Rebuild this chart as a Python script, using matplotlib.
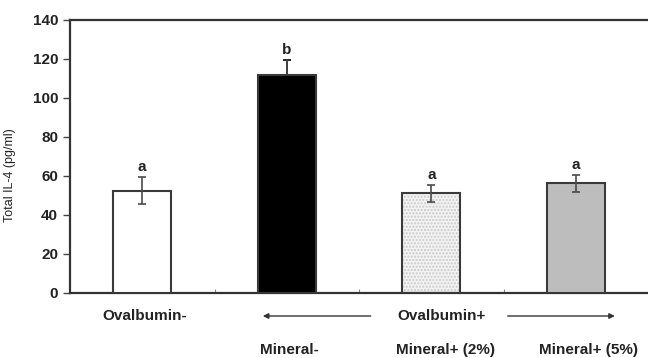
import matplotlib
matplotlib.use("Agg")
import matplotlib.pyplot as plt

plt.rcParams['font.family'] = ['Liberation Sans', 'DejaVu Sans']

groups = ['Ovalbumin-', 'Mineral-', 'Mineral+ (2%)', 'Mineral+ (5%)']
means = [52.2, 111.5, 50.9, 56.0]
errs = [7.0, 7.8, 4.4, 4.5]
letters = ['a', 'b', 'a', 'a']
fills = ['white', 'black', '#f3f3f3', '#bdbdbd']
yticks = [0, 20, 40, 60, 80, 100, 120, 140]

fig = plt.figure(figsize=(6.48, 3.58), dpi=100)
ax = fig.add_axes([70 / 648, (358 - 292.5) / 358, 1 - 70 / 648, 273 / 358])

x = list(range(len(groups)))
# dotted fill for the 2% bar, drawn under the outlined bars
ax.bar(x[2], means[2], width=0.4, color=fills[2], edgecolor='#c8c8c8',
       hatch='.....', linewidth=0, zorder=2)
ax.bar(x, means, width=0.4, color=['white', 'black', 'none', '#bdbdbd'],
       edgecolor='#3a3a3a', linewidth=1.5, zorder=3)
for xi, m, e, t in zip(x, means, errs, letters):
    ec = 'black' if fills[xi] == 'black' else '#4a4a4a'
    ax.errorbar(xi, m, yerr=e, fmt='none', ecolor=ec,
                elinewidth=1.2, capsize=3, capthick=1.2, zorder=4)
    if fills[xi] == 'black':
        ax.plot([xi, xi], [m, m + e], color='#4a4a4a', lw=1.2, zorder=5)
    ax.text(xi, m + e + 1.5, t, ha='center', va='bottom', fontsize=11,
            fontweight='bold', color='#222222')

ax.set_xlim(-0.5, 3.5)
ax.set_ylim(0, 140)
ax.set_yticks(yticks)
ax.set_yticklabels([str(v) for v in yticks], fontsize=11, fontweight='bold',
                   color='#222222')
ax.tick_params(axis='y', direction='out', length=5, width=1, color='#444444')
ax.set_xticks([0.5, 1.5, 2.5])
ax.set_xticklabels([])
ax.tick_params(axis='x', direction='in', length=3, width=0.8, color='#888888')
for s in ['left', 'bottom', 'top']:
    ax.spines[s].set_linewidth(1.6)
    ax.spines[s].set_color('#333333')
ax.spines['right'].set_visible(False)

fig.text(10 / 648, 1 - 175 / 358, 'Total IL-4 (pg/ml)', rotation=90,
         ha='center', va='center', fontsize=9, color='#222222')

tr = ax.get_xaxis_transform()
lab = dict(fontsize=11, fontweight='bold', color='#222222', va='center',
           transform=tr, clip_on=False)
y1 = -(316 - 292.5) / 273
y2 = -(350 - 292.5) / 273
ax.text(0.02, y1, groups[0], ha='center', **lab)
ax.text(2.07, y1, 'Ovalbumin+', ha='center', **lab)
ax.text(0.815, y2, groups[1], ha='left', **lab)
ax.text(2.10, y2, groups[2], ha='center', **lab)
ax.text(3.09, y2, groups[3], ha='center', **lab)
arrow = dict(arrowstyle='-|>', color='#333333', lw=1.0, mutation_scale=8)
ax.annotate('', xy=(0.815, y1), xytext=(1.6, y1), xycoords=tr,
            textcoords=tr, arrowprops=arrow, annotation_clip=False)
ax.annotate('', xy=(3.29, y1), xytext=(2.51, y1), xycoords=tr,
            textcoords=tr, arrowprops=arrow, annotation_clip=False)

fig.savefig('out.png', dpi=100)
